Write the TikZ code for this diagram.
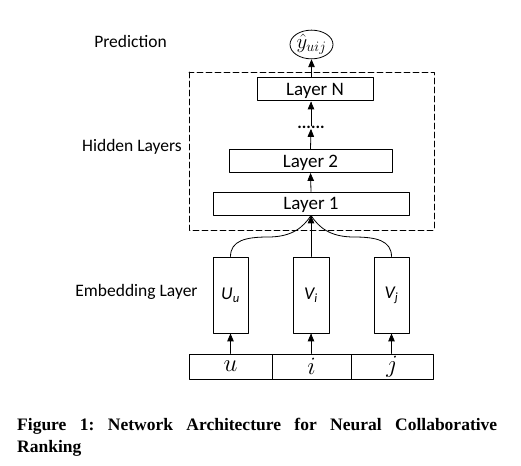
\documentclass[tikz,border=0pt]{standalone}
\usepackage{amsmath,amssymb}
\usepackage{fontspec}
\setmainfont{Liberation Serif}
\setsansfont{Carlito}
\usetikzlibrary{arrows, calc, positioning, shapes.geometric}

\tikzset{
  layerbox/.style={draw, line width=1pt, rectangle, minimum height=23pt, text height=12pt, text depth=0pt, font=\sffamily\fontsize{19}{22}\selectfont},
  embbox/.style={draw, line width=1pt, rectangle, minimum width=35pt, minimum height=76pt, font=\sffamily\itshape\fontsize{18}{20}\selectfont},
  inbox/.style={draw, line width=1pt, rectangle, minimum height=25pt, font=\fontsize{24}{26}\selectfont},
  sidelabel/.style={anchor=base, font=\sffamily\fontsize{17.5}{20}\selectfont}
}

\begin{document}
\begin{tikzpicture}[line cap=round,line join=round,>=triangle 45,x=1pt,y=-1pt, every node/.style={inner sep=0pt}]
\useasboundingbox (0,0) rectangle (521,465);

% Prediction
\node [draw, line width=0.8pt, ellipse, minimum width=43pt, minimum height=22pt, font=\fontsize{20.74}{22}\selectfont] (pred) at (311.5,44.5) {$\hat{y}_{uij}$};

% Hidden layers
\node [layerbox, minimum width=116pt] (layerN) at (315,89.5) {Layer N};
\node [font=\sffamily\bfseries\fontsize{17}{20}\selectfont] (dots) at (311,127.5) {......};
\node [layerbox, minimum width=163pt] (layer2) at (310.5,161) {Layer 2};
\node [layerbox, minimum width=196pt] (layer1) at (311,203.5) {Layer 1};
\draw [line width=0.8pt, dash pattern=on 6pt off 3pt] (189,72) rectangle (434,230);

% Embedding boxes
\node [embbox] (embU) at (230.5,295) {U\textsubscript{u}};
\node [embbox, minimum width=36pt] (embVi) at (311,295) {V\textsubscript{i}};
\node [embbox] (embVj) at (391.5,295) {V\textsubscript{j}};

% Input row
\node [inbox, minimum width=83pt] (inU) at (230.5,366.5) {$u$};
\node [inbox, minimum width=79pt] (inI) at (311.5,366.5) {$i$};
\node [inbox, minimum width=82pt] (inJ) at (392,366.5) {$j$};

% Draw
\draw [->, line width=0.8pt] (layer1.north) -- (layer2.south);
\draw [->, line width=0.8pt] (layer2.north) -- (dots.south);
\draw [->, line width=0.8pt] (dots.north) -- (dots.north |- layerN.south);
\draw [->, line width=0.8pt] (pred.south |- layerN.north) -- (pred.south);
\draw [->, line width=0.8pt] (embVi.north) -- (layer1.south);
\coordinate (lbend) at (268,237);
\coordinate (rbend) at (354,237);
\draw [line width=0.8pt] (embU.north) .. controls +(0,-16) and +(-22,0) .. (lbend) .. controls +(24,0) and +(-8,12) .. (layer1.south);
\draw [line width=0.8pt] (embVj.north) .. controls +(0,-16) and +(22,0) .. (rbend) .. controls +(-24,0) and +(8,12) .. (layer1.south);
\foreach \from/\to in {inU/embU, inI/embVi, inJ/embVj}
  \draw [->, line width=0.8pt] (\from.north -| \to.south) -- (\to.south);

% Labels
\node [sidelabel] (predlabel) at (130.5,48) {Prediction};
\node [sidelabel] (hiddenlabel) at (132,152) {Hidden Layers};
\node [sidelabel] (emblabel) at (136.5,296.5) {Embedding Layer};

% Caption
\node [anchor=north west, text width=480pt, align=justify, font=\bfseries\fontsize{17.5}{22}\selectfont\frenchspacing] (caption) at (17,418) {Figure 1: Network Architecture for Neural Collaborative\linebreak Ranking};
\end{tikzpicture}
\end{document}
